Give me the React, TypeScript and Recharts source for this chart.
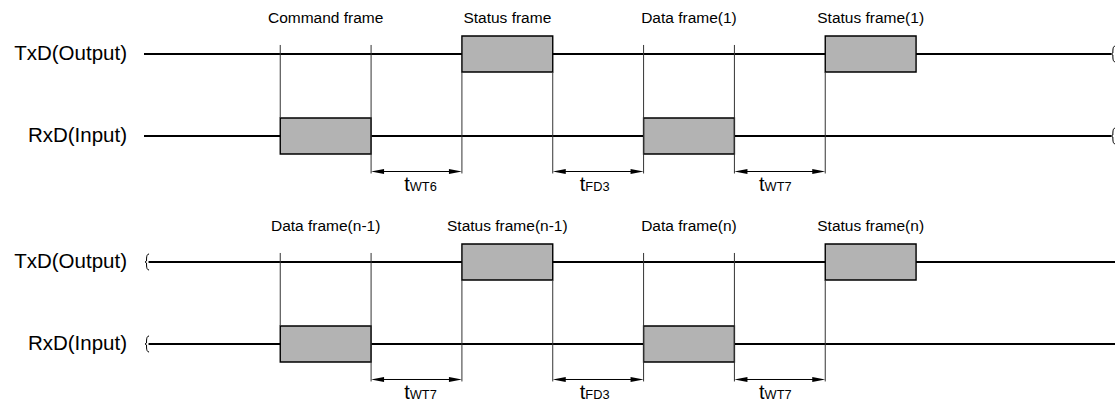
import React from 'react';
import { ComposedChart, XAxis, YAxis, ReferenceLine, ReferenceArea, ReferenceDot } from 'recharts';

// ---- data ----
// lane values: RxD = 0, TxD = 1
const laneValues = [0, 1];
const laneNames = ['RxD(Input)', 'TxD(Output)'];

// frames in time slots (start/end), lane index
const framesTop = [
  { lane: 0, start: 0, end: 1, label: 'Command frame' },
  { lane: 1, start: 2, end: 3, label: 'Status frame' },
  { lane: 0, start: 4, end: 5, label: 'Data frame(1)' },
  { lane: 1, start: 6, end: 7, label: 'Status frame(1)' },
];
const framesBottom = [
  { lane: 0, start: 0, end: 1, label: 'Data frame(n-1)' },
  { lane: 1, start: 2, end: 3, label: 'Status frame(n-1)' },
  { lane: 0, start: 4, end: 5, label: 'Data frame(n)' },
  { lane: 1, start: 6, end: 7, label: 'Status frame(n)' },
];
// timing gaps
const gapsTop = [
  { start: 1, end: 2, sub: 'WT6' },
  { start: 3, end: 4, sub: 'FD3' },
  { start: 5, end: 6, sub: 'WT7' },
];
const gapsBottom = [
  { start: 1, end: 2, sub: 'WT7' },
  { start: 3, end: 4, sub: 'FD3' },
  { start: 5, end: 6, sub: 'WT7' },
];
// line extents (time slots) and where the break mark sits
const spanTop = { from: -1.5, to: 9.15, breakAt: 'end' };
const spanBottom = { from: -1.45, to: 9.19, breakAt: 'start' };
const xDomain = [-1.5, 9.19];

// ---- layout / style constants ----
const FONT = '"Liberation Sans", Arial, Helvetica, sans-serif';
const BOX_HALF = 0.22;
const GUIDE_TOP = 1.11;
const GUIDE_BOTTOM = -0.457;
const ARROW_Y = -0.433;
const FRAME_LABEL_Y = 1.384;
const T_LABEL_Y = -0.667;
const labelNudge = [4, -3.5, -4.5];

const ArrowShape = (p: any) => {
  const { x1, y1, x2 } = p;
  const L = 13;
  const H = 2.6;
  const y = y1;
  return (
    <g>
      <line x1={x1 + 4} y1={y} x2={x2 - 4} y2={y} stroke="#000" strokeWidth={1} />
      <polygon points={`${x1},${y} ${x1 + L},${y - H} ${x1 + L},${y + H}`} fill="#000" />
      <polygon points={`${x2},${y} ${x2 - L},${y - H} ${x2 - L},${y + H}`} fill="#000" />
    </g>
  );
};

function laneSegments(frames: any[], lane: number, span: any) {
  const boxes = frames.filter((f) => f.lane === lane).sort((a, b) => a.start - b.start);
  const segs: [number, number][] = [];
  let cur = span.from;
  boxes.forEach((b) => {
    segs.push([cur, b.start]);
    cur = b.end;
  });
  segs.push([cur, span.to]);
  return segs;
}

function guideSegments(frames: any[], gaps: any[]) {
  const gapEdges = new Set<number>();
  gaps.forEach((g) => {
    gapEdges.add(g.start);
    gapEdges.add(g.end);
  });
  const out: { x: number; y1: number; y2: number }[] = [];
  frames.forEach((f) => {
    [f.start, f.end].forEach((x) => {
      const inGap = gapEdges.has(x);
      if (f.lane === 0) {
        out.push({ x, y1: GUIDE_TOP, y2: inGap ? GUIDE_BOTTOM : BOX_HALF });
      } else if (inGap) {
        out.push({ x, y1: 1 - BOX_HALF, y2: GUIDE_BOTTOM });
      }
    });
  });
  return out;
}

const LaneTick = (p: any) => {
  const v = p.payload.value;
  return (
    <text x={p.x} y={p.y + 6} textAnchor="end" fontSize={20.5} fontFamily={FONT} fill="#000">
      {laneNames[laneValues.indexOf(v)]}
    </text>
  );
};

function Diagram({ frames, gaps, span, height, yDomain }: any) {
  const breakX = span.breakAt === 'end' ? span.to : span.from;
  return (
    <ComposedChart width={1115} height={height} margin={{ top: 0, right: 0, bottom: 0, left: 0 }} data={[]}>
      <XAxis type="number" dataKey="x" domain={xDomain} allowDataOverflow hide />
      <YAxis
        type="number"
        domain={yDomain}
        allowDataOverflow
        ticks={laneValues}
        width={144}
        axisLine={false}
        tickLine={false}
        tickSize={0}
        tickMargin={17}
        tick={LaneTick}
      />
      {laneValues.map((lane) =>
        laneSegments(frames, lane, span).map(([a, b], i) => (
          <ReferenceLine
            key={`lane-${lane}-${i}`}
            segment={[{ x: a, y: lane }, { x: b, y: lane }]}
            stroke="#000"
            strokeWidth={2.2}
            ifOverflow="visible"
          />
        ))
      )}
      {guideSegments(frames, gaps).map((g, i) => (
        <ReferenceLine
          key={`guide-${i}`}
          segment={[{ x: g.x, y: g.y1 }, { x: g.x, y: g.y2 }]}
          stroke="#333"
          strokeWidth={1}
          ifOverflow="visible"
        />
      ))}
      {frames.map((f: any, i: number) => (
        <ReferenceArea
          key={`box-${i}`}
          x1={f.start}
          x2={f.end}
          y1={f.lane - BOX_HALF}
          y2={f.lane + BOX_HALF}
          fill="#b3b3b3"
          fillOpacity={1}
          stroke="#000"
          strokeWidth={1.4}
          ifOverflow="visible"
        />
      ))}
      {frames.map((f: any, i: number) => (
        <ReferenceDot
          key={`flabel-${i}`}
          x={(f.start + f.end) / 2}
          y={FRAME_LABEL_Y}
          r={1}
          ifOverflow="visible"
          shape={(p: any) => (
            <text x={p.cx} y={p.cy} textAnchor="middle" fontSize={15.5} fontFamily={FONT} fill="#000">
              {f.label}
            </text>
          )}
        />
      ))}
      {gaps.map((g: any, i: number) => (
        <ReferenceLine
          key={`arrow-${i}`}
          segment={[{ x: g.start, y: ARROW_Y }, { x: g.end, y: ARROW_Y }]}
          ifOverflow="visible"
          shape={ArrowShape}
        />
      ))}
      {gaps.map((g: any, i: number) => (
        <ReferenceDot
          key={`tlabel-${i}`}
          x={(g.start + g.end) / 2}
          y={T_LABEL_Y}
          r={1}
          ifOverflow="visible"
          shape={(p: any) => (
            <text x={p.cx + labelNudge[i]} y={p.cy} textAnchor="middle" fontFamily={FONT} fill="#000">
              <tspan fontSize={20}>t</tspan>
              <tspan fontSize={12.8}>{g.sub}</tspan>
            </text>
          )}
        />
      ))}
      {laneValues.map((lane) => (
        <ReferenceDot
          key={`break-${lane}`}
          x={breakX}
          y={lane}
          r={1}
          ifOverflow="visible"
          shape={(p: any) => {
            const cx = span.breakAt === 'end' ? p.cx : p.cx - 3.5;
            const cy = p.cy;
            return (
              <path
                d={`M${cx + 4},${cy - 8} Q${cx + 1.5},${cy - 8} ${cx + 1.5},${cy - 3} L${cx + 1.5},${cy - 1} L${cx},${cy} L${cx + 1.5},${cy + 1} L${cx + 1.5},${cy + 3} Q${cx + 1.5},${cy + 8} ${cx + 4},${cy + 8}`}
                fill="none"
                stroke="#000"
                strokeWidth={1}
              />
            );
          }}
        />
      ))}
    </ComposedChart>
  );
}

export default function App() {
  return (
    <div style={{ position: 'absolute', left: 0, top: 0, width: 1115, height: 410, background: '#fff' }}>
      <div style={{ position: 'absolute', left: 0, top: 0 }}>
        <Diagram frames={framesTop} gaps={gapsTop} span={spanTop} height={208} yDomain={[-0.878, 1.6585]} />
      </div>
      <div style={{ position: 'absolute', left: 0, top: 208 }}>
        <Diagram frames={framesBottom} gaps={gapsBottom} span={spanBottom} height={202} yDomain={[-0.805, 1.6585]} />
      </div>
    </div>
  );
}
